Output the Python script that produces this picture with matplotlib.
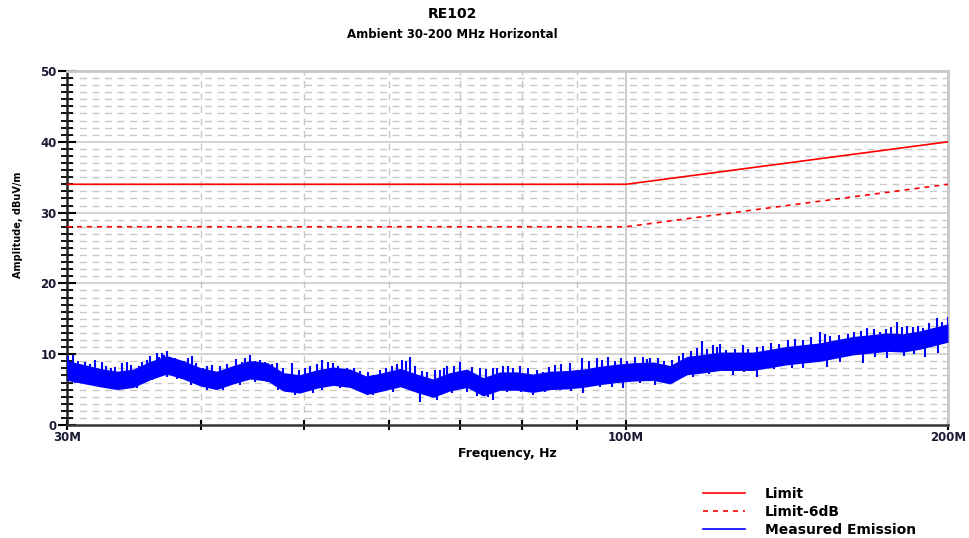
import matplotlib
matplotlib.use("Agg")
import matplotlib.pyplot as plt
import numpy as np

plt.rcParams['font.family'] = ['DejaVu Sans']
plt.rcParams['font.weight'] = 'bold'

# limit lines (MHz, dBuV/m)
limit_f = [30, 100, 200]
limit_db = [34, 34, 40]
limit6_db = [28, 28, 34]

# measured emission, core band
emis_f = [30.0, 32.2, 33.4, 34.6, 35.9, 37.2, 38.5, 40.0, 41.4, 42.9, 44.5, 46.2,
          47.8, 49.5, 51.4, 53.2, 55.2, 57.2, 59.2, 61.5, 63.7, 66.0, 68.4, 71.0,
          73.5, 76.2, 79.1, 81.8, 84.9, 88.1, 91.1, 94.5, 98.1, 101.5, 106.0, 109.9,
          114.0, 117.2, 122.4, 131.4, 141.4, 151.8, 163.0, 175.4, 181.6, 188.3, 200.0]
emis_lo = [6.3, 5.4, 5.0, 5.3, 6.4, 7.2, 6.5, 5.5, 5.0, 5.8, 6.5, 6.2,
           4.8, 4.5, 5.2, 5.6, 5.3, 4.3, 4.8, 5.4, 4.6, 3.9, 4.8, 5.3,
           4.1, 4.9, 4.9, 4.6, 5.0, 5.1, 5.3, 5.7, 6.0, 6.2, 6.3, 5.8,
           7.1, 7.3, 7.7, 7.7, 8.5, 9.0, 9.9, 10.4, 10.3, 10.7, 11.7]
emis_hi = [9.1, 8.0, 7.6, 7.9, 9.0, 9.8, 9.1, 8.1, 7.6, 8.4, 9.1, 8.8,
           7.4, 7.1, 7.8, 8.2, 7.9, 6.9, 7.4, 8.0, 7.2, 6.5, 7.4, 7.9,
           6.7, 7.5, 7.5, 7.2, 7.6, 7.7, 7.9, 8.3, 8.6, 8.8, 8.9, 8.4,
           9.7, 9.9, 10.3, 10.3, 11.1, 11.6, 12.5, 13.0, 12.9, 13.3, 14.3]

# upward spikes (freq, peak)
spike_f = [30.06, 30.39, 30.7, 31.19, 31.5, 31.87, 32.35, 32.6, 33.0, 33.27, 33.77, 34.14,
           34.4, 35.0, 35.26, 35.64, 35.9, 36.41, 36.6, 36.81, 37.0, 37.21, 37.85, 38.2,
           38.6, 38.93, 39.26, 39.6, 40.2, 40.55, 41.0, 41.70, 42.3, 43.2, 43.73, 44.0,
           44.49, 45.0, 45.46, 46.0, 46.6, 47.15, 47.77, 48.70, 49.4, 50.09, 50.6, 51.4,
           51.95, 52.6, 53.20, 53.8, 54.83, 55.6, 56.4, 57.4, 57.98, 58.86, 59.6, 60.40,
           61.0, 61.72, 62.2, 62.79, 63.5, 64.5, 65.13, 66.2, 66.98, 67.5, 68.00, 69.0,
           69.93, 71.8, 73.00, 74.0, 75.08, 75.8, 76.71, 77.5, 78.38, 79.5, 81.0, 82.6,
           83.61, 84.7, 85.80, 87.0, 88.6, 90.94, 92.4, 93.92, 95.0, 96.17, 97.6, 99.0,
           100.2, 102.0, 103.7, 104.6, 105.3, 107.0, 108.5, 110.5, 112.0, 113.0, 115.0, 116.5,
           117.8, 119.0, 120.6, 121.5, 122.4, 124.0, 126.5, 128.6, 130.0, 132.5, 134.3, 136.5,
           139.0, 141.7, 144.0, 146.5, 149.0, 151.8, 153.5, 155.1, 158.0, 161.2, 163.5, 165.8,
           168.0, 170.5, 172.7, 175.0, 177.0, 179.2, 181.0, 183.1, 185.5, 187.5, 189.5, 192.0,
           195.3, 197.5, 200.0]
spike_top = [9.7, 9.9, 9.0, 8.9, 8.6, 9.2, 8.9, 8.4, 8.0, 8.2, 8.7, 8.9,
             8.5, 8.4, 8.9, 9.2, 9.8, 10.1, 9.6, 10.1, 9.9, 10.4, 9.4, 9.2,
             9.1, 9.5, 9.8, 8.8, 8.0, 8.3, 8.5, 8.3, 8.6, 9.3, 8.9, 9.4,
             9.9, 9.0, 9.2, 8.9, 8.6, 8.7, 8.0, 8.7, 7.8, 8.0, 8.4, 8.6,
             9.2, 8.9, 8.7, 8.4, 8.0, 8.1, 7.6, 7.5, 7.1, 7.7, 8.0, 8.3,
             8.6, 9.2, 9.0, 9.6, 8.4, 7.6, 7.5, 7.8, 7.7, 8.0, 8.3, 8.4,
             8.9, 8.2, 8.0, 7.9, 8.0, 8.1, 8.3, 8.3, 8.0, 8.3, 8.0, 7.8,
             7.5, 8.2, 8.5, 8.6, 8.8, 9.4, 9.0, 9.4, 9.2, 9.6, 9.1, 9.5,
             9.0, 9.6, 9.6, 9.3, 9.4, 9.4, 9.0, 9.2, 9.8, 10.1, 10.4, 10.9,
             11.8, 10.8, 11.3, 11.0, 11.5, 10.6, 10.8, 11.3, 10.8, 11.0, 11.1, 11.6,
             11.5, 12.0, 12.1, 12.0, 12.4, 13.2, 12.9, 12.6, 12.7, 12.8, 13.1, 13.3,
             13.7, 13.5, 13.2, 13.6, 13.8, 14.6, 13.9, 14.0, 13.8, 14.0, 13.7, 14.4,
             15.1, 14.5, 15.3]

# downward dips (freq, bottom)
dip_f = [30.5, 31.31, 32.91, 33.5, 34.88, 36.0, 37.21, 38.0, 39.2, 40.55, 42.0, 43.5,
         45.0, 46.15, 47.3, 48.18, 49.02, 50.96, 52.0, 54.0, 56.75, 58.0, 60.5, 62.5,
         64.16, 66.55, 68.8, 70.99, 72.5, 74.3, 75.08, 77.37, 79.8, 81.83, 84.0, 86.8,
         88.8, 91.13, 94.5, 97.0, 99.33, 103.0, 106.5, 110.6, 115.5, 119.5, 125.9, 129.0,
         132.6, 137.5, 143.0, 146.4, 154.1, 158.5, 166.5, 171.0, 175.4, 181.8, 186.0, 190.3,
         195.7]
dip_bot = [6.0, 5.9, 5.4, 5.1, 5.2, 6.3, 6.8, 6.5, 5.6, 4.9, 5.0, 5.7,
           6.1, 6.1, 5.0, 4.7, 4.2, 4.5, 5.0, 5.2, 4.7, 4.3, 4.6, 5.1,
           3.3, 3.5, 4.5, 4.7, 4.1, 4.0, 3.5, 4.7, 4.6, 4.2, 4.6, 4.9,
           4.8, 4.5, 5.3, 5.4, 5.2, 5.9, 5.6, 6.1, 6.8, 7.2, 7.1, 7.5,
           6.8, 7.9, 8.0, 8.0, 8.2, 8.9, 8.7, 9.6, 9.4, 9.8, 10.0, 9.6,
           10.1]

major_y = [0, 10, 20, 30, 40, 50]
xtick_f = [30, 100, 200]
xtick_lab = ['30M', '100M', '200M']
xminor_f = [40, 50, 60, 70, 80, 90]

fig = plt.figure(figsize=(9.69, 5.38), dpi=100)
ax = fig.add_axes([67 / 969, 1 - 425 / 538, 881 / 969, 354 / 538])

grid_c = '#c8c8c8'
for y in range(1, 50):
    if y % 10:
        ax.axhline(y, color=grid_c, lw=1.0, ls=(0, (5, 4)), zorder=1)
for y in major_y[1:]:
    ax.axhline(y, color=grid_c, lw=1.1, zorder=1)
for f in xminor_f:
    ax.axvline(f, color=grid_c, lw=1.0, ls=(0, (5, 4)), zorder=1)
ax.axvline(100, color=grid_c, lw=1.3, zorder=1)

blue = '#0000ff'
mid = (np.array(emis_lo) + np.array(emis_hi)) / 2
ax.fill_between(emis_f, emis_lo, emis_hi, color=blue, lw=0, zorder=3)
ax.vlines(spike_f, np.interp(spike_f, emis_f, mid), spike_top, color=blue, lw=1.5, zorder=3)
ax.vlines(dip_f, dip_bot, np.interp(dip_f, emis_f, mid), color=blue, lw=1.5, zorder=3)
ax.plot(emis_f, mid, color=blue, lw=1.2, zorder=3, label='Measured Emission')

ax.plot(limit_f, limit_db, color='#ff0000', lw=1.2, zorder=4, label='Limit')
ax.plot(limit_f, limit6_db, color='#ff0000', lw=1.2, ls=(0, (3, 3)), zorder=4, label='Limit-6dB')

ax.set_xscale('log')
ax.set_xlim(30, 200)
ax.set_ylim(0, 50)
ax.set_xticks(xtick_f)
ax.set_xticklabels(xtick_lab)
ax.set_xticks(xminor_f, minor=True)
ax.xaxis.set_minor_formatter(plt.NullFormatter())
ax.set_yticks(major_y)
ax.set_yticks(range(51), minor=True)

ax.tick_params(axis='y', which='major', direction='inout', length=13, width=1.5, labelsize=8.5, pad=1)
ax.tick_params(axis='y', which='minor', direction='inout', length=8, width=1.3)
ax.tick_params(axis='x', which='both', direction='inout', length=7, width=1.5, labelsize=8.5, pad=1)
for lab in ax.get_xticklabels() + ax.get_yticklabels():
    lab.set_fontweight('bold')
    lab.set_color('#1a1a33')

ax.spines['left'].set_color('#222222')
ax.spines['left'].set_linewidth(1.8)
ax.spines['bottom'].set_color('#333333')
ax.spines['bottom'].set_linewidth(1.8)
for s in ['top', 'right']:
    ax.spines[s].set_color(grid_c)
    ax.spines[s].set_linewidth(2)

fig.text(452 / 969, 1 - 14 / 538, 'RE102', ha='center', va='center', fontsize=10, fontweight='bold')
fig.text(452 / 969, 1 - 35 / 538, 'Ambient 30-200 MHz Horizontal', ha='center', va='center',
         fontsize=8.5, fontweight='bold')
fig.text(507 / 969, 1 - 454 / 538, 'Frequency, Hz', ha='center', va='center', fontsize=9, fontweight='bold')
fig.text(18 / 969, 1 - 225 / 538, 'Amplitude, dBuV/m', ha='center', va='center', rotation=90,
         fontsize=7, fontweight='bold')

h, labs = ax.get_legend_handles_labels()
order = [labs.index('Limit'), labs.index('Limit-6dB'), labs.index('Measured Emission')]
fig.legend([h[i] for i in order], [labs[i] for i in order], loc='upper left',
           bbox_to_anchor=(703 / 969, 1 - 487 / 538), frameon=False,
           prop={'size': 10, 'weight': 'bold'}, handlelength=3.0, handletextpad=1.45,
           labelspacing=0.3, borderpad=0, borderaxespad=0)

fig.savefig('out.png', dpi=100)
